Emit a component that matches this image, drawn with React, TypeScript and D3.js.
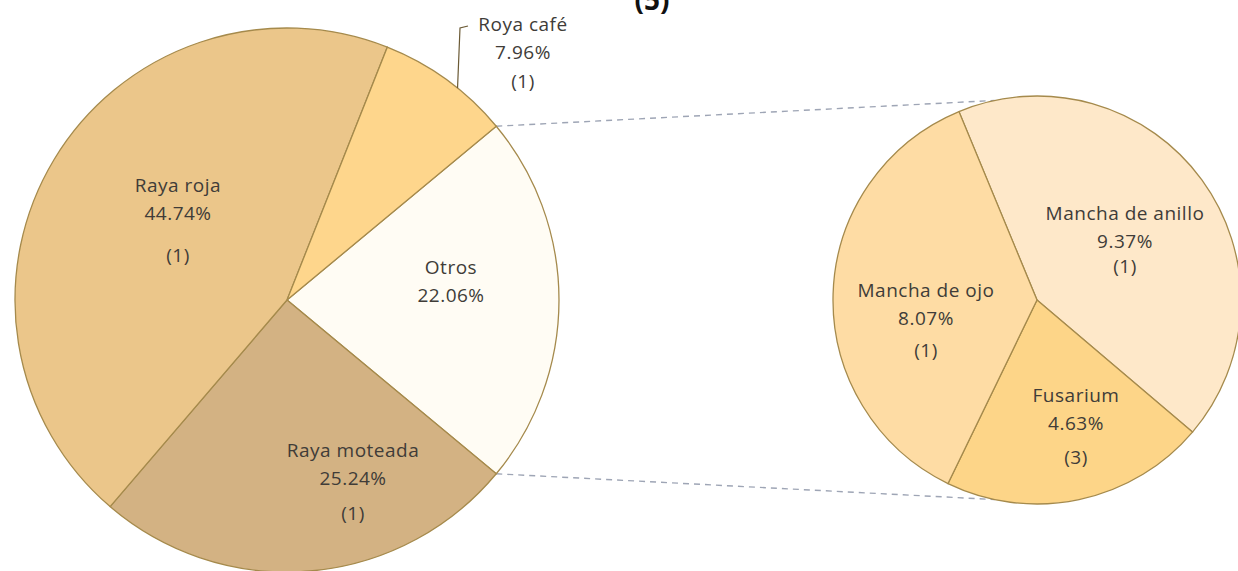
import React from 'react';
import * as d3 from 'd3';

// main pie, "Otros" first so it can be centred on the right side
const mainLabels = ['Otros', 'Raya moteada', 'Raya roja', 'Roya café'];
const mainValues = [22.06, 25.24, 44.74, 7.96];
const mainCounts = ['', '(1)', '(1)', '(1)'];
const mainColors = ['#fffcf4', '#d3b283', '#ebc68a', '#fed68c'];

// secondary pie (breakdown of "Otros")
const subLabels = ['Mancha de anillo', 'Fusarium', 'Mancha de ojo'];
const subValues = [9.37, 4.63, 8.07];
const subCounts = ['(1)', '(3)', '(1)'];
const subColors = ['#fee8c9', '#fdd588', '#fedca4'];

const W = 1238;
const H = 571;
const FONT = "'Open Sans', 'DejaVu Sans', sans-serif";
const deg = Math.PI / 180;

//label placement relative to the pie centre: [dx, dy of first line, gap before count]
const mainLabelPos: [number, number, number][] = [
    [164, -33, 0],
    [66, 150, 35],
    [-109, -115, 42],
    [236, -276, 29],
];
const subLabelPos: [number, number, number][] = [
    [88, -87, 25],
    [39, 95, 34],
    [-111, -10, 32],
];

const fmt = (v: number) => v.toFixed(2) + '%';

const App = () => {
    const c1 = { x: 287, y: 300, r: 272 };
    const c2 = { x: 1037, y: 300, r: 204 };

    const otrosAngle = (mainValues[0] / d3.sum(mainValues)) * 2 * Math.PI;
    const mainStart = Math.PI / 2 - otrosAngle / 2;

    const mainArcs = d3.pie<number>().sort(null)
        .startAngle(mainStart).endAngle(mainStart + 2 * Math.PI)(mainValues);
    const subArcs = d3.pie<number>().sort(null)
        .startAngle(-22.5 * deg).endAngle(-22.5 * deg + 2 * Math.PI)(subValues);

    const arc1 = d3.arc<d3.PieArcDatum<number>>().innerRadius(0).outerRadius(c1.r);
    const arc2 = d3.arc<d3.PieArcDatum<number>>().innerRadius(0).outerRadius(c2.r);

    const pt = (c: { x: number; y: number; r: number }, a: number) =>
        [c.x + c.r * Math.sin(a), c.y - c.r * Math.cos(a)];

    //connector lines from the "Otros" slice edges to the secondary pie
    const o = mainArcs[0];
    const p1 = pt(c1, o.startAngle);
    const p2 = pt(c1, o.endAngle);
    const q1 = pt(c2, -12 * deg);
    const q2 = pt(c2, 192 * deg);

    //leader line for Roya café
    const rc = mainArcs[3];
    const rcEdge = pt(c1, (rc.startAngle + rc.endAngle) / 2 + 0.05);

    const renderLabel = (name: string, value: number, count: string,
        pos: [number, number, number], cx: number, cy: number, key: string) => {
        const x = cx + pos[0];
        const y = cy + pos[1];
        return (
            <text key={key} x={x} y={y} textAnchor="middle" dominantBaseline="central"
                fontFamily={FONT} fontSize={19} letterSpacing={0.5} fill="#403c38">
                <tspan x={x} y={y}>{name}</tspan>
                <tspan x={x} y={y + 28}>{fmt(value)}</tspan>
                {count && <tspan x={x} y={y + 28 + pos[2]}>{count}</tspan>}
            </text>
        );
    };

    return (
        <svg width={W} height={H} style={{ position: 'absolute', left: 0, top: 0, background: '#fff' }}>
            <text x={652} y={10} textAnchor="middle" fontFamily={FONT} fontWeight="bold"
                fontSize={28} fill="#111">(5)</text>

            <g stroke="#9ea5b5" strokeWidth={1.4} strokeDasharray="6,5" fill="none">
                <line x1={p1[0]} y1={p1[1]} x2={q1[0]} y2={q1[1]} />
                <line x1={p2[0]} y1={p2[1]} x2={q2[0]} y2={q2[1]} />
            </g>

            <g transform={`translate(${c1.x},${c1.y})`}>
                {mainArcs.map((d, i) => (
                    <path key={i} d={arc1(d) || ''} fill={mainColors[i]}
                        stroke="#a58a4c" strokeWidth={1.3} />
                ))}
            </g>
            <g transform={`translate(${c2.x},${c2.y})`}>
                {subArcs.map((d, i) => (
                    <path key={i} d={arc2(d) || ''} fill={subColors[i]}
                        stroke="#a58a4c" strokeWidth={1.3} />
                ))}
            </g>

            <polyline points={`${rcEdge[0]},${rcEdge[1]} ${c1.x + 173},${c1.y - 272} ${c1.x + 181},${c1.y - 274}`}
                fill="none" stroke="#6b5a35" strokeWidth={1.2} />

            {mainLabels.map((n, i) =>
                renderLabel(n, mainValues[i], mainCounts[i], mainLabelPos[i], c1.x, c1.y, 'm' + i))}
            {subLabels.map((n, i) =>
                renderLabel(n, subValues[i], subCounts[i], subLabelPos[i], c2.x, c2.y, 's' + i))}
        </svg>
    );
};

export default App;
